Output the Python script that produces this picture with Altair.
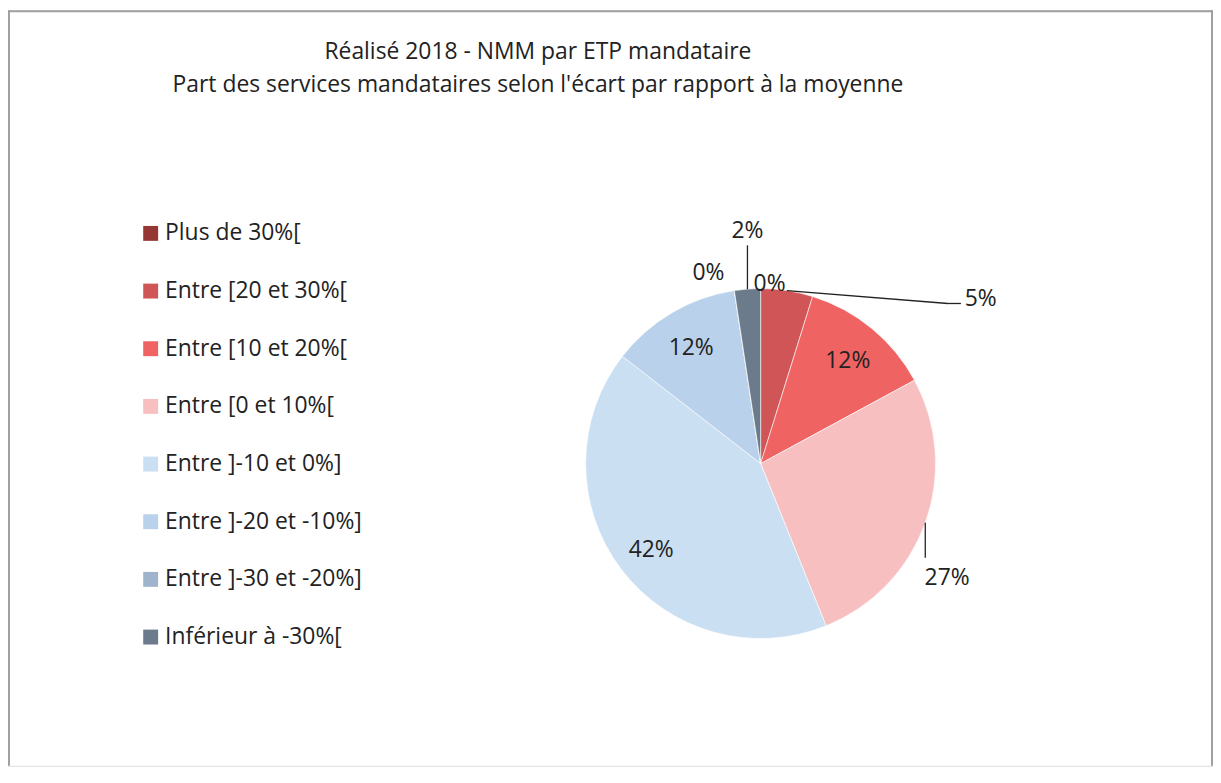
import altair as alt
import pandas as pd

# ---- data ----
CATEGORIES = [
    "Plus de 30%[",
    "Entre [20 et 30%[",
    "Entre [10 et 20%[",
    "Entre [0 et 10%[",
    "Entre ]-10 et 0%]",
    "Entre ]-20 et -10%]",
    "Entre ]-30 et -20%]",
    "Inférieur à -30%[",
]
SHARES = [0.0, 4.8, 12.3, 26.8, 41.6, 12.1, 0.0, 2.4]
TITLE_LINES = [
    "Réalisé 2018 - NMM par ETP mandataire",
    "Part des services mandataires selon l'écart par rapport à la moyenne",
]

# ---- style / layout ----
COLORS = ["#953735", "#D05556", "#EF6363", "#F7BFC0",
          "#CBDFF2", "#B9D1EA", "#A0B3CC", "#6C7B8B"]
FONT = "Open Sans"
FS = 23
TXT = "#222222"
W, H = 1212, 760
CX, CY, R = 757, 456, 176
# label placement: radius from centre + pixel offset
LABEL_R = [176, 176, 138, 176, 138, 138, 176, 176]
LABEL_DX = [9, 195, 0, 22, 0, 0, -26, 0]
LABEL_DY = [-5, 9, 3, 56, 4, 3, -18, -58]
# leader lines from the slice edge
LEAD_DX = [0, 162, 0, 0, 0, 0, 0, 0]
LEAD_DY = [0, 13, 0, 35, 0, 0, 0, -44]
TAIL_DX = [0, 13, 0, 0, 0, 0, 0, 0]

df = pd.DataFrame({
    "category": CATEGORIES,
    "share": SHARES,
    "order": list(range(len(CATEGORIES))),
    "lr": LABEL_R, "ldx": LABEL_DX, "ldy": LABEL_DY,
    "edx": LEAD_DX, "edy": LEAD_DY, "tdx": TAIL_DX,
})

base = alt.Chart(df)

pie = base.mark_arc(radius=R, stroke="white", strokeWidth=0.6).encode(
    theta=alt.Theta("share:Q", stack=True),
    order=alt.Order("order:Q"),
    color=alt.Color(
        "category:N",
        sort=CATEGORIES,
        scale=alt.Scale(domain=CATEGORIES, range=COLORS),
        legend=alt.Legend(
            title=None, orient="none", legendX=132, legendY=213,
            symbolType="square", symbolSize=225, symbolStrokeWidth=0,
            labelFont=FONT, labelFontSize=FS, labelColor=TXT,
            labelOffset=3, rowPadding=34, padding=0, labelLimit=400,
        ),
    ),
    x=alt.value(CX),
    y=alt.value(CY),
)

geo = (
    base.transform_window(cum="sum(share)", sort=[alt.SortField("order")], frame=[None, 0])
    .transform_joinaggregate(total="sum(share)")
    .transform_calculate(
        mid="(datum.cum - datum.share/2) / datum.total * 2 * PI",
        pct="datum.share / datum.total",
    )
    .transform_calculate(
        bx=f"{CX} + {R} * sin(datum.mid)",
        by=f"{CY} - {R} * cos(datum.mid)",
        lx=f"{CX} + datum.lr * sin(datum.mid) + datum.ldx",
        ly=f"{CY} - datum.lr * cos(datum.mid) + datum.ldy",
    )
    .transform_calculate(
        ex="datum.bx + datum.edx",
        ey="datum.by + datum.edy",
    )
    .transform_calculate(tx="datum.ex + datum.tdx")
)

labels = geo.mark_text(font=FONT, fontSize=FS, color=TXT, align="center", baseline="middle").encode(
    x=alt.X("lx:Q", scale=None),
    y=alt.Y("ly:Q", scale=None),
    text=alt.Text("pct:Q", format=".0%"),
)

leaders = geo.transform_filter("datum.edx != 0 || datum.edy != 0").mark_rule(
    color=TXT, strokeWidth=1.3
).encode(
    x=alt.X("bx:Q", scale=None), y=alt.Y("by:Q", scale=None),
    x2="ex:Q", y2="ey:Q",
)

tails = geo.transform_filter("datum.tdx != 0").mark_rule(
    color=TXT, strokeWidth=1.3
).encode(
    x=alt.X("ex:Q", scale=None), y=alt.Y("ey:Q", scale=None),
    x2="tx:Q", y2="ey:Q",
)

title_df = pd.DataFrame({"t": ["\n".join(TITLE_LINES)]})
title = alt.Chart(title_df).mark_text(
    font=FONT, fontSize=FS, color=TXT, align="center", baseline="alphabetic",
    lineBreak="\n", lineHeight=33,
).encode(text="t:N", x=alt.value(533), y=alt.value(49))

frame_col = "#A0A0A0"
frame = alt.layer(
    alt.Chart(title_df).mark_rule(color=frame_col, strokeWidth=2).encode(
        x=alt.value(1), x2=alt.value(1), y=alt.value(0), y2=alt.value(H)),
    alt.Chart(title_df).mark_rule(color=frame_col, strokeWidth=2).encode(
        x=alt.value(0), x2=alt.value(W), y=alt.value(1), y2=alt.value(1)),
    alt.Chart(title_df).mark_rule(color=frame_col, strokeWidth=2).encode(
        x=alt.value(W - 1), x2=alt.value(W - 1), y=alt.value(0), y2=alt.value(H)),
)

chart = alt.layer(pie, leaders, tails, labels, title, frame).properties(
    width=W, height=H,
    autosize=alt.AutoSizeParams(type="none"),
    padding=0,
).configure_view(stroke=None).configure(background="white")

chart.save("out.html", embed_options={"renderer": "svg", "actions": False})
